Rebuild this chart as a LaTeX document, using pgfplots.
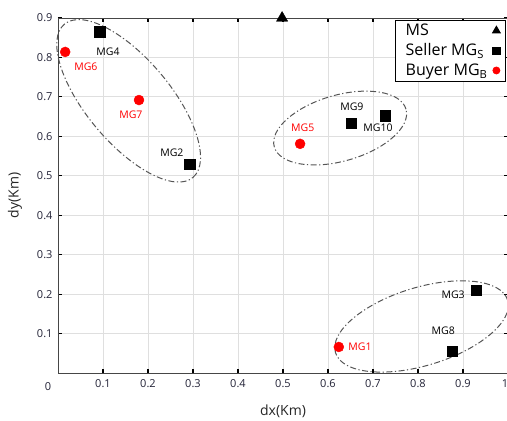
\documentclass[border=0pt]{standalone}
\usepackage{fontspec}
\setmainfont{Open Sans}
\usepackage{pgfplots}
\pgfplotsset{compat=1.18}
\usetikzlibrary{shapes.geometric}

\definecolor{ticktext}{RGB}{35,35,55}
\definecolor{framegray}{RGB}{70,70,70}
\definecolor{ellgray}{RGB}{85,85,85}

\begin{document}
\begin{tikzpicture}
  \begin{axis}[
    name=ax,
    scale only axis,
    width=450pt, height=355pt,
    xmin=0, xmax=1, ymin=0, ymax=0.9,
    xtick={0.1,0.2,0.3,0.4,0.5,0.6,0.7,0.8,0.9,1},
    xticklabels={0.1,0.2,0.3,0.4,0.5,0.6,0.7,0.8,0.9,\hspace*{-6pt}1},
    ytick={0.1,0.2,0.3,0.4,0.5,0.6,0.7,0.8,0.9},
    yticklabels={0.1,0.2,0.3,0.4,0.5,0.6,0.7,0.8,0.9},
    /pgf/number format/assume math mode=true,
    tick label style={font=\fontsize{11}{13}\selectfont, text=ticktext},
    xticklabel style={yshift=-3pt},
    yticklabel style={xshift=-2pt},
    grid=major,
    grid style={gray!25, line width=0.9pt},
    axis line style={framegray, line width=0.8pt},
    major tick length=4pt,
    tick style={black, line width=1.2pt},
    xlabel={dx(Km)}, ylabel={dy(Km)},
    label style={font=\fontsize{14}{16}\selectfont, text=black!85},
    xlabel style={yshift=-10pt},
    ylabel style={yshift=8pt},
    clip=false,
    legend plot pos=right,
    legend cell align=left,
    legend style={at={(0.995,0.995)}, anchor=north east,
      draw=black, line width=0.8pt, fill=white,
      font=\fontsize{16}{19}\selectfont,
      row sep=2.5pt, inner xsep=5pt, inner ysep=2pt,
      nodes={inner xsep=5pt}},
    legend image post style={scale=0.7},
  ]
    % main station
    \addplot[only marks, mark=triangle*, mark size=6.5pt, black]
      coordinates {(0.498,0.9)};
    \addlegendentry{MS}
    % seller microgrids: MG4, MG2, MG9, MG10, MG3, MG8
    \addplot[only marks, mark=square*, mark size=5.2pt, black]
      coordinates {
        (0.093,0.865) (0.293,0.530) (0.651,0.634)
        (0.727,0.652) (0.929,0.210) (0.876,0.056)
      };
    \addlegendentry{Seller MG\textsubscript{S}}
    % buyer microgrids: MG6, MG7, MG5, MG1
    \addplot[only marks, mark=*, mark size=5pt, red]
      coordinates {
        (0.016,0.814) (0.180,0.692) (0.538,0.581) (0.624,0.066)
      };
    \addlegendentry{Buyer MG\textsubscript{B}}

    % cluster outlines
    \tikzset{cluster/.style={draw=ellgray, line width=1pt, ellipse,
      inner sep=0pt, dash pattern=on 6pt off 2.5pt on 1.2pt off 2.5pt}}
    \node[cluster, minimum width=200pt, minimum height=84pt, rotate=-50]
      at (axis cs:0.157,0.690) {};
    \node[cluster, minimum width=137pt, minimum height=66pt, rotate=16]
      at (axis cs:0.627,0.621) {};
    \node[cluster, minimum width=180pt, minimum height=78pt, rotate=17]
      at (axis cs:0.808,0.118) {};

    % point labels
    \tikzset{lab/.style={font=\fontsize{10.5}{12}\selectfont, inner sep=1pt}}
    \node[lab, black] at (axis cs:0.111,0.814) {MG4};
    \node[lab, red]   at (axis cs:0.062,0.776) {MG6};
    \node[lab, red]   at (axis cs:0.162,0.654) {MG7};
    \node[lab, black] at (axis cs:0.253,0.558) {MG2};
    \node[lab, red]   at (axis cs:0.544,0.621) {MG5};
    \node[lab, black] at (axis cs:0.653,0.674) {MG9};
    \node[lab, black] at (axis cs:0.711,0.621) {MG10};
    \node[lab, black] at (axis cs:0.878,0.198) {MG3};
    \node[lab, black] at (axis cs:0.856,0.106) {MG8};
    \node[lab, red]   at (axis cs:0.671,0.066) {MG1};
    \node[font=\fontsize{11}{13}\selectfont, text=ticktext]
      at (axis cs:0,0) [xshift=-10pt, yshift=-14pt] {0};
  \end{axis}
  \pgfresetboundingbox
  \path[use as bounding box] ([shift={(-58pt,-48pt)}]ax.south west)
    rectangle ([shift={(449pt,373pt)}]ax.south west);
\end{tikzpicture}
\end{document}
